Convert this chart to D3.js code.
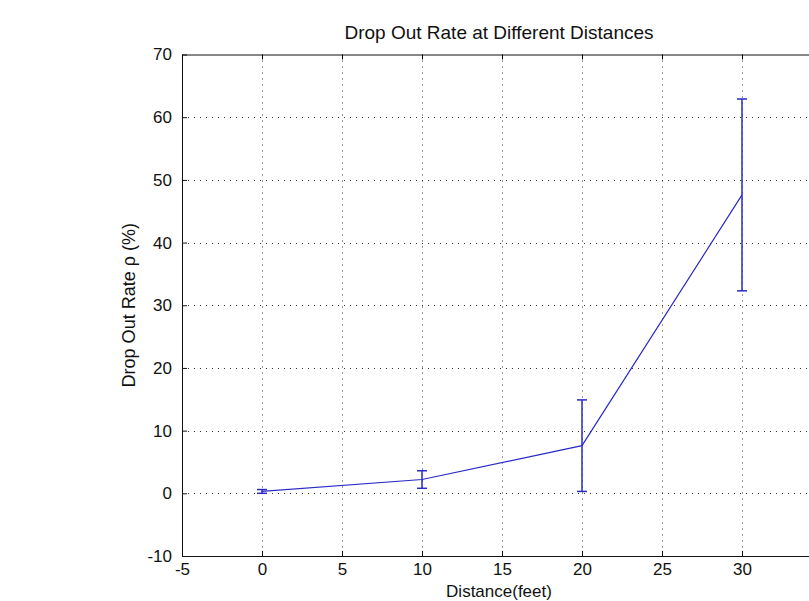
<!DOCTYPE html>
<html>
<head>
<meta charset="utf-8">
<script src="https://cdn.jsdelivr.net/npm/d3@7"></script>
<style>
  body { margin: 0; background: #fff; }
  svg { display: block; font-family: Arial, "Liberation Sans", sans-serif; }
</style>
</head>
<body>
<div id="chart"></div>
<script>
// data
const distances = [0, 10, 20, 30];
const dropRate = [0.3, 2.2, 7.6, 47.6];
const errors = [0.3, 1.4, 7.3, 15.3];
const xTicks = [-5, 0, 5, 10, 15, 20, 25, 30];
const yTicks = [-10, 0, 10, 20, 30, 40, 50, 60, 70];

const w = 809;
const h = 601;
const plotLeft = 182, plotRight = 822, plotTop = 54.5, plotBottom = 556;

const svg = d3.select("#chart")
              .append("svg")
              .attr("width", w)
              .attr("height", h);

const xScale = d3.scaleLinear().domain([-5, 35]).range([plotLeft, plotRight]);
const yScale = d3.scaleLinear().domain([-10, 70]).range([plotBottom, plotTop]);

// dotted grid
const grid = svg.append("g").attr("stroke", "#333").attr("stroke-width", 1)
                .attr("stroke-dasharray", "1,5");
grid.selectAll(".gx")
    .data(xTicks.slice(1))
    .enter()
    .append("line")
    .attr("x1", d => Math.round(xScale(d)) + 0.5)
    .attr("x2", d => Math.round(xScale(d)) + 0.5)
    .attr("y1", plotTop)
    .attr("y2", plotBottom);
grid.selectAll(".gy")
    .data(yTicks.slice(1, -1))
    .enter()
    .append("line")
    .attr("y1", d => Math.round(yScale(d)) + 0.5)
    .attr("y2", d => Math.round(yScale(d)) + 0.5)
    .attr("x1", plotLeft)
    .attr("x2", plotRight);

// axes, ticks pointing inward
const fmt = d => String(d);
const xAxis = d3.axisBottom(xScale).tickValues(xTicks).tickFormat(fmt)
                .tickSizeInner(-5).tickSizeOuter(0).tickPadding(7);
const yAxis = d3.axisLeft(yScale).tickValues(yTicks).tickFormat(fmt)
                .tickSizeInner(-5).tickSizeOuter(0).tickPadding(10);

const gx = svg.append("g")
   .attr("transform", "translate(0," + plotBottom + ")")
   .call(xAxis);
const gy = svg.append("g")
   .attr("transform", "translate(" + plotLeft + ",0)")
   .call(yAxis);
svg.append("g")
   .attr("transform", "translate(0," + plotTop + ")")
   .call(d3.axisTop(xScale).tickValues(xTicks).tickSizeInner(-5).tickSizeOuter(0).tickFormat(""));

[gx, gy].forEach(g => {
  g.selectAll("text").style("font-size", "17px").attr("fill", "#111");
  g.selectAll(".tick line").attr("stroke", "#111");
});
svg.selectAll(".domain").attr("stroke", "#111");

// line
const line = d3.line()
               .x((d, i) => xScale(distances[i]))
               .y(d => yScale(d));
svg.append("path")
   .datum(dropRate)
   .attr("d", line)
   .attr("fill", "none")
   .attr("stroke", "#2a2ac8")
   .attr("stroke-width", 1.2);

// error bars
const bars = svg.append("g").attr("stroke", "#2a2ac8").attr("stroke-width", 1.5);
distances.forEach((x, i) => {
  const cx = xScale(x);
  const hi = yScale(dropRate[i] + errors[i]);
  const lo = yScale(dropRate[i] - errors[i]);
  bars.append("line").attr("x1", cx).attr("x2", cx).attr("y1", hi).attr("y2", lo);
  bars.append("line").attr("x1", cx - 5).attr("x2", cx + 5).attr("y1", hi).attr("y2", hi);
  bars.append("line").attr("x1", cx - 5).attr("x2", cx + 5).attr("y1", lo).attr("y2", lo);
});

// labels
svg.append("text")
   .text("Drop Out Rate at Different Distances")
   .attr("x", 499)
   .attr("y", 39)
   .attr("text-anchor", "middle")
   .style("font-size", "19px")
   .attr("fill", "#111");
svg.append("text")
   .text("Distance(feet)")
   .attr("x", 499)
   .attr("y", 597)
   .attr("text-anchor", "middle")
   .style("font-size", "17px")
   .attr("fill", "#111");
svg.append("text")
   .text("Drop Out Rate \u03C1 (%)")
   .attr("transform", "translate(135," + ((plotTop + plotBottom) / 2) + ") rotate(-90)")
   .attr("text-anchor", "middle")
   .style("font-size", "18px")
   .attr("fill", "#111");
</script>
</body>
</html>
